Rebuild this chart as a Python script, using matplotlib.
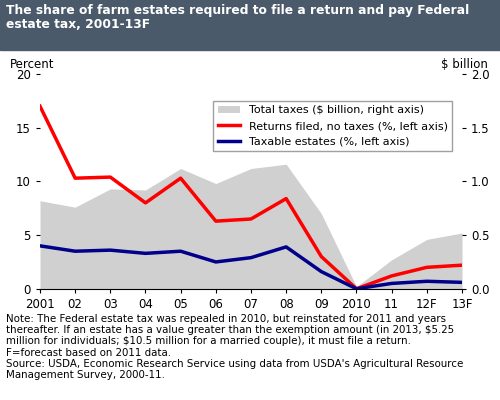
import matplotlib
matplotlib.use("Agg")
import matplotlib.pyplot as plt

years = list(range(13))
year_labels = ["2001", "02", "03", "04", "05", "06", "07", "08", "09", "2010", "11", "12F", "13F"]
total_taxes = [0.82, 0.76, 0.93, 0.92, 1.12, 0.98, 1.12, 1.16, 0.70, 0.02, 0.27, 0.46, 0.52]
returns_no_tax = [17.0, 10.3, 10.4, 8.0, 10.3, 6.3, 6.5, 8.4, 3.0, 0.0, 1.2, 2.0, 2.2]
taxable = [4.0, 3.5, 3.6, 3.3, 3.5, 2.5, 2.9, 3.9, 1.6, 0.0, 0.5, 0.7, 0.6]

fig = plt.figure(figsize=(5, 4), dpi=100)
fig.patches.append(plt.Rectangle((0, 0.875), 1, 0.125, transform=fig.transFigure,
                                 color="#4a5a6a", zorder=0))
fig.text(0.012, 0.99, "The share of farm estates required to file a return and pay Federal\nestate tax, 2001-13F",
         color="white", fontsize=8.8, fontweight="bold", va="top", linespacing=1.15)

ax = fig.add_axes([0.08, 0.278, 0.844, 0.537])
ax2 = ax.twinx()
ax2.fill_between(years, total_taxes, color="#d0d0d0", lw=0, label="Total taxes ($ billion, right axis)")
ax2.set_ylim(0, 2.0)
ax2.set_yticks([0, 0.5, 1.0, 1.5, 2.0])
ax2.set_yticklabels(["0.0", "0.5", "1.0", "1.5", "2.0"])
ax.set_zorder(ax2.get_zorder() + 1)
ax.patch.set_visible(False)

ax.plot(years, returns_no_tax, color="#ff0000", lw=2.5, label="Returns filed, no taxes (%, left axis)")
ax.plot(years, taxable, color="#00008b", lw=2.5, label="Taxable estates (%, left axis)")
ax.set_ylim(0, 20)
ax.set_xlim(0, 12)
ax.set_yticks([0, 5, 10, 15, 20])
ax.set_xticks(years)
ax.set_xticklabels(year_labels)
for a in (ax, ax2):
    a.tick_params(labelsize=8.5, length=3)
    for s in a.spines.values():
        s.set_visible(False)
ax.spines["bottom"].set_visible(True)

fig.text(0.02, 0.83, "Percent", fontsize=8.5)
fig.text(0.975, 0.83, "$ billion", fontsize=8.5, ha="right")

h1, l1 = ax2.get_legend_handles_labels()
h2, l2 = ax.get_legend_handles_labels()
ax.legend(h1 + h2, l1 + l2, loc="upper right", fontsize=8, frameon=True,
          fancybox=False, edgecolor="#888888", bbox_to_anchor=(0.99, 0.9))

fig.text(0.012, 0.215,
         "Note: The Federal estate tax was repealed in 2010, but reinstated for 2011 and years\n"
         "thereafter. If an estate has a value greater than the exemption amount (in 2013, $5.25\n"
         "million for individuals; $10.5 million for a married couple), it must file a return.\n"
         "F=forecast based on 2011 data.\n"
         "Source: USDA, Economic Research Service using data from USDA's Agricultural Resource\n"
         "Management Survey, 2000-11.",
         fontsize=7.4, va="top", linespacing=1.15)

fig.savefig("out.png")
